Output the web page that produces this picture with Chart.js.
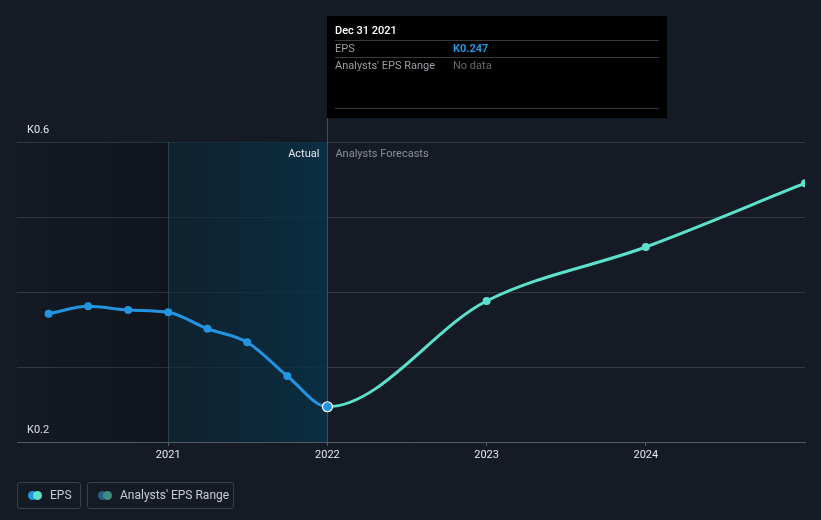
<!DOCTYPE html>
<html>
<head>
<meta charset="utf-8">
<script src="https://cdn.jsdelivr.net/npm/chart.js@4.4.1/dist/chart.umd.min.js"></script>
<style>
  body { margin: 0; background: #151b25; font-family: Roboto, sans-serif; }
  #wrap { position: relative; width: 821px; height: 520px; }
  .leg { position: absolute; top: 482px; height: 27px; border: 1px solid #3a404a; border-radius: 3px;
         box-sizing: border-box; color: #c9ccd1; font-size: 12px; line-height: 25px; }
  .dot { position: absolute; top: 8px; width: 9px; height: 9px; border-radius: 50%; }
</style>
</head>
<body>
<div id="wrap">
  <canvas id="epsChart" width="821" height="520"></canvas>
  <div class="leg" style="left:17px;width:64px;">
    <span class="dot" style="left:10px;background:#2394df"></span>
    <span class="dot" style="left:15px;background:#5ce2cc"></span>
    <span style="position:absolute;left:32px">EPS</span>
  </div>
  <div class="leg" style="left:87px;width:147px;">
    <span class="dot" style="left:10px;background:#245f85"></span>
    <span class="dot" style="left:15px;background:#3f8c85"></span>
    <span style="position:absolute;left:32px">Analysts' EPS Range</span>
  </div>
</div>
<script>
// EPS, quarterly actuals and yearly forecasts
const actualDates = ['2020-03-31', '2020-06-30', '2020-09-30', '2020-12-31', '2021-03-31', '2021-06-30', '2021-09-30', '2021-12-31'];
const actualEps = [0.371, 0.381, 0.376, 0.373, 0.351, 0.333, 0.288, 0.247];
const forecastDates = ['2022-12-31', '2023-12-31', '2024-12-31'];
const forecastEps = [0.388, 0.46, 0.545];
const yearTicks = [2021, 2022, 2023, 2024];
const yTicks = [0.2, 0.3, 0.4, 0.5, 0.6];

function toYear(s) {
    const d = new Date(s + 'T00:00:00Z');
    const y = d.getUTCFullYear();
    const start = Date.UTC(y, 0, 1);
    return y + (d - start + 86400000) / (Date.UTC(y + 1, 0, 1) - start);
}
const cutX = toYear('2021-12-31');
const bandX = toYear('2020-12-31');
const allPts = actualDates.map((d, i) => ({ x: toYear(d), y: actualEps[i] }))
    .concat(forecastDates.map((d, i) => ({ x: toYear(d), y: forecastEps[i] })));

const BLUE = '#2394df', TEAL = '#5ce2cc';

const backdrop = {
    id: 'backdrop',
    beforeDatasetsDraw(chart) {
        const { ctx, chartArea: a, scales: { x } } = chart;
        const x0 = x.getPixelForValue(bandX);
        const x1 = x.getPixelForValue(cutX);
        ctx.save();
        let g = ctx.createLinearGradient(a.left, 0, x0, 0);
        g.addColorStop(0, 'rgba(0,0,0,0.02)');
        g.addColorStop(1, 'rgba(0,0,0,0.2)');
        ctx.fillStyle = g;
        ctx.fillRect(a.left, a.top, x0 - a.left, a.bottom - a.top);
        g = ctx.createLinearGradient(x0, 0, x1, 0);
        g.addColorStop(0, 'rgba(10,40,55,0.55)');
        g.addColorStop(1, 'rgba(8,50,72,0.85)');
        ctx.fillStyle = g;
        ctx.fillRect(x0, a.top, x1 - x0, a.bottom - a.top);
        ctx.strokeStyle = 'rgba(60,110,135,0.45)';
        ctx.lineWidth = 1;
        ctx.beginPath();
        ctx.moveTo(Math.round(x0) + 0.5, a.top);
        ctx.lineTo(Math.round(x0) + 0.5, a.bottom);
        ctx.stroke();
        ctx.strokeStyle = 'rgba(70,125,150,0.55)';
        ctx.beginPath();
        ctx.moveTo(Math.round(x1) + 0.5, 117);
        ctx.lineTo(Math.round(x1) + 0.5, a.bottom);
        ctx.stroke();
        ctx.font = '11px Roboto';
        ctx.textBaseline = 'middle';
        ctx.textAlign = 'right';
        ctx.fillStyle = '#e6e8eb';
        ctx.fillText('Actual', x1 - 8, 154);
        ctx.textAlign = 'left';
        ctx.fillStyle = '#8b9099';
        ctx.fillText('Analysts Forecasts', x1 + 8, 154);
        ctx.restore();
    }
};

const tipBox = {
    id: 'tipBox',
    afterDraw(chart) {
        const { ctx, scales: { x } } = chart;
        const left = Math.round(x.getPixelForValue(cutX));
        ctx.save();
        ctx.fillStyle = '#000000';
        ctx.fillRect(left, 16, 340, 102);
        ctx.strokeStyle = '#3a3a3a';
        ctx.lineWidth = 1;
        [40, 57, 108].forEach(y => {
            ctx.beginPath();
            ctx.moveTo(left + 8, y + 0.5);
            ctx.lineTo(left + 332, y + 0.5);
            ctx.stroke();
        });
        ctx.textBaseline = 'middle';
        ctx.font = '500 11px Roboto';
        ctx.fillStyle = '#ffffff';
        ctx.fillText('Dec 31 2021', left + 8, 31);
        ctx.font = '11px Roboto';
        ctx.fillStyle = '#9a9ea4';
        ctx.fillText('EPS', left + 8, 49);
        ctx.fillText("Analysts' EPS Range", left + 8, 66);
        ctx.font = 'bold 11px Roboto';
        ctx.fillStyle = BLUE;
        ctx.fillText('K' + actualEps[actualEps.length - 1].toFixed(3), left + 126, 49);
        ctx.font = '11px Roboto';
        ctx.fillStyle = '#65696f';
        ctx.fillText('No data', left + 126, 66);
        ctx.restore();
    }
};

const last = actualEps.length - 1;
new Chart(document.getElementById('epsChart').getContext('2d'), {
    type: 'line',
    data: {
        datasets: [{
            label: 'EPS',
            data: allPts,
            borderWidth: 3,
            borderColor: BLUE,
            segment: { borderColor: c => c.p0DataIndex >= last ? TEAL : BLUE },
            pointBackgroundColor: c => c.dataIndex > last ? TEAL : BLUE,
            pointRadius: c => c.dataIndex === last ? 5 : 4,
            pointBorderColor: c => c.dataIndex === last ? '#ffffff' : 'rgba(0,0,0,0)',
            pointBorderWidth: c => c.dataIndex === last ? 1.2 : 0,
            cubicInterpolationMode: 'monotone',
            clip: 0
        }]
    },
    options: {
        responsive: false,
        animation: false,
        layout: { padding: { top: 142, right: 16 } },
        plugins: { legend: { display: false }, tooltip: { enabled: false } },
        scales: {
            x: {
                type: 'linear',
                min: 2020.05,
                max: toYear('2024-12-31'),
                afterBuildTicks: s => { s.ticks = yearTicks.map(v => ({ value: v })); },
                afterFit: s => { s.height = 78; },
                grid: { drawOnChartArea: false, tickLength: 4, color: '#555a62' },
                border: { color: '#555a62', width: 1 },
                ticks: { color: '#e6e8eb', font: { family: 'Roboto', size: 11 }, padding: 3, callback: v => String(v) }
            },
            y: {
                min: 0.2,
                max: 0.6,
                afterBuildTicks: s => { s.ticks = yTicks.map(v => ({ value: v })); },
                afterFit: s => { s.width = 17; },
                grid: { color: 'rgba(255,255,255,0.13)', drawTicks: false },
                border: { display: false },
                ticks: {
                    mirror: true,
                    padding: 10,
                    labelOffset: -12,
                    color: '#e6e8eb',
                    font: { family: 'Roboto', size: 11 },
                    callback: v => (v === 0.2 || v === 0.6) ? 'K' + v : ''
                }
            }
        }
    },
    plugins: [backdrop, tipBox]
});
</script>
</body>
</html>
